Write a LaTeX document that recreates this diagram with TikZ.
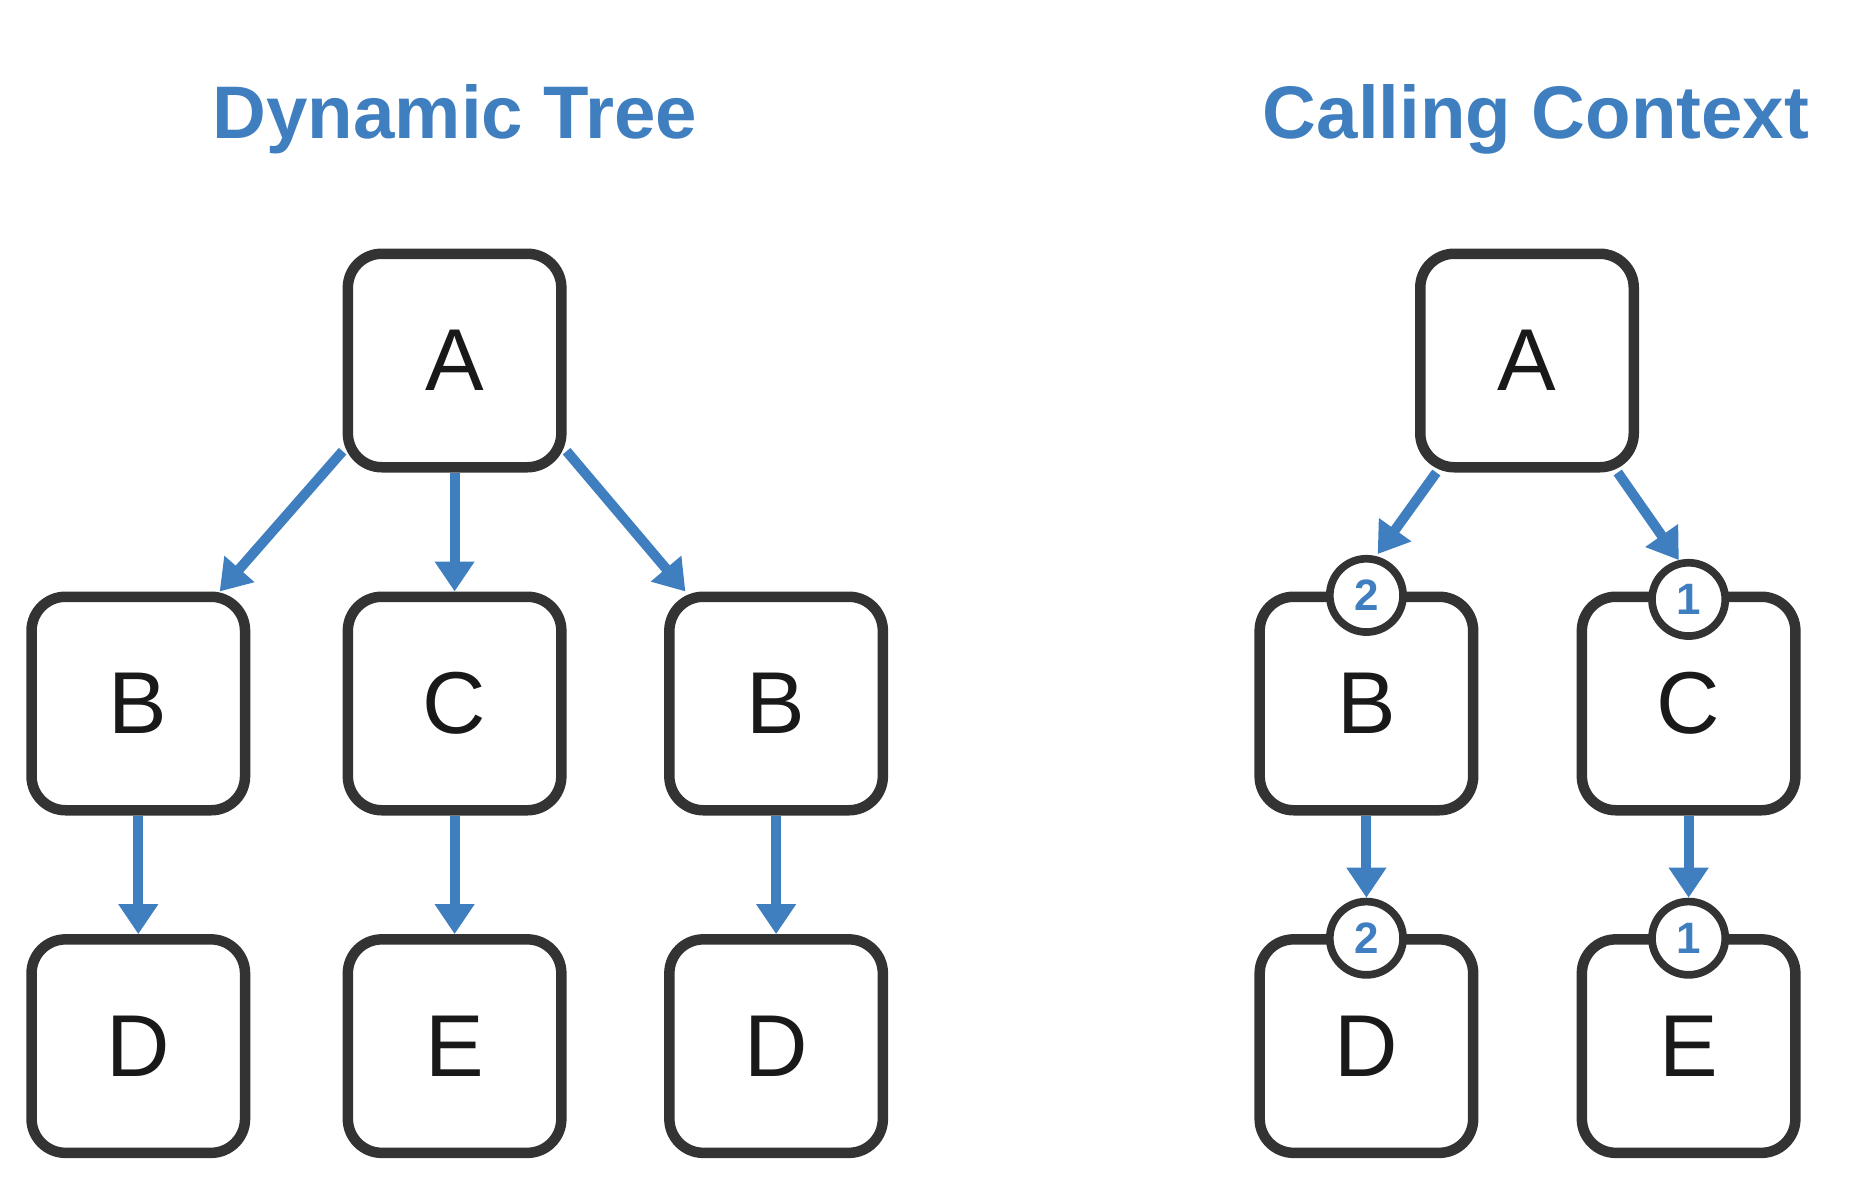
\documentclass[tikz,border=0pt]{standalone}
\usepackage{fontspec}
\setmainfont{Liberation Sans}
\usetikzlibrary{arrows.meta}
\definecolor{treeblue}{RGB}{64,127,191}
\definecolor{boxgray}{RGB}{51,51,51}
\begin{document}
\begin{tikzpicture}[
  box/.style={draw=boxgray, line width=1.05mm, rounded corners=3.4mm, fill=white,
    minimum width=21.35mm, minimum height=21.35mm, inner sep=0pt,
    text=black!90, font=\fontsize{25}{28}\selectfont},
  badge/.style={circle, draw=boxgray, line width=0.77mm, fill=white,
    minimum size=7.33mm, inner sep=0pt, text=treeblue,
    font=\bfseries\fontsize{12.5}{14}\selectfont},
  link/.style={treeblue, line width=1mm, -{Triangle[width=3.8mm,length=3mm]}},
  heading/.style={anchor=base, text=treeblue, inner sep=0pt,
    font=\bfseries\fontsize{21.2}{24}\selectfont}]
\useasboundingbox (0,0) rectangle (18.57,11.91);

%titles
\node[heading] (tDyn) at (4.55,10.52) {Dynamic Tree};
\node[heading] (tCall) at (15.36,10.52) {Calling Context};

%dynamic tree
\node[box] (dA) at (4.546,8.305) {A};
\node[box] (dB1) at (1.383,4.875) {B};
\node[box] (dC) at (4.546,4.875) {C};
\node[box] (dB2) at (7.761,4.875) {B};
\node[box] (dD1) at (1.383,1.449) {D};
\node[box] (dE) at (4.546,1.449) {E};
\node[box] (dD2) at (7.761,1.449) {D};
\draw[link] (dA.219) -- (dB1.54);
\draw[link] (dA.south) -- (dC.north);
\draw[link] (dA.321) -- (dB2.129);
\draw[link] (dB1.south) -- (dD1.north);
\draw[link] (dC.south) -- (dE.north);
\draw[link] (dB2.south) -- (dD2.north);

%calling context
\node[box] (cA) at (15.27,8.305) {A};
\node[box] (cB) at (13.664,4.875) {B};
\node[box] (cC) at (16.886,4.875) {C};
\node[box] (cD) at (13.664,1.449) {D};
\node[box] (cE) at (16.886,1.449) {E};
%call counts
\node[badge] (nB) at (13.664,5.956) {2};
\node[badge] (nC) at (16.886,5.916) {1};
\node[badge] (nD) at (13.664,2.528) {2};
\node[badge] (nE) at (16.886,2.528) {1};
\draw[link, shorten >=0.25mm] (cA.231) -- (nB.76);
\draw[link] (cA.309) -- (nC.104);
\draw[link] (cB.south) -- (nD.north);
\draw[link] (cC.south) -- (nE.north);
\end{tikzpicture}
\end{document}
